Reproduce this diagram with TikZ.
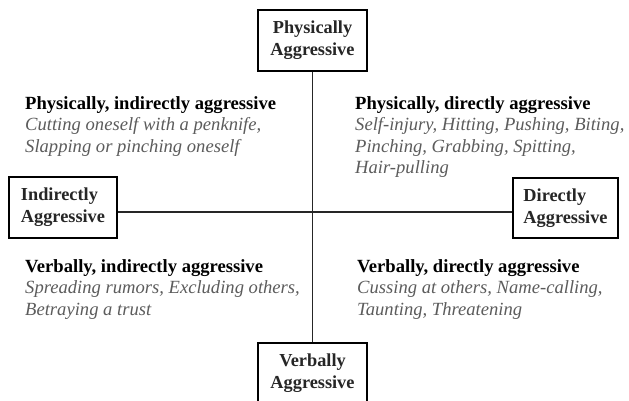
\documentclass[tikz,border=0pt]{standalone}
\usepackage{fontspec}
\setmainfont{Liberation Serif}
\definecolor{txtgray}{gray}{0.36}
\begin{document}
\begin{tikzpicture}[x=1pt,y=-1pt,
 box/.style={draw=black,line width=1.8pt,minimum width=109pt,minimum height=61pt,inner sep=0pt,
   font=\fontsize{18.3}{22}\selectfont\bfseries,text=black!85},
 conn/.style={draw=black!85,line width=1.8pt},
 blk/.style={anchor=north west,inner sep=0pt,align=left,font=\fontsize{18.6}{21.6}\selectfont}]
\useasboundingbox (0,0) rectangle (629,400);
\fill[white] (0,0) rectangle (629,400);
\node[box,align=center] (top) at (312.5,40.5) {Physically\\Aggressive};
\node[box,align=left,minimum width=108pt] (left) at (63,207.5) {Indirectly\\Aggressive};
\node[box,align=left,minimum width=105pt,minimum height=60pt] (right) at (565.5,208) {Directly\\Aggressive};
\node[box,align=center] (bot) at (312.5,373.5) {Verbally\\Aggressive};
\coordinate (c) at (312,212);
\draw[conn] (top.south) -- (bot.north);
\draw[conn] (left.east |- c) -- (right.west |- c);
\node[blk] (pi) at (25,96) {\textbf{Physically, indirectly aggressive}\\
  \color{txtgray}\itshape Cutting oneself with a penknife,\\
  \color{txtgray}\itshape Slapping or pinching oneself};
\node[blk] (pd) at (355,96) {\textbf{Physically, directly aggressive}\\
  \color{txtgray}\itshape Self-injury, Hitting, Pushing, Biting,\\
  \color{txtgray}\itshape Pinching, Grabbing, Spitting,\\
  \color{txtgray}\itshape Hair-pulling};
\node[blk] (vi) at (25,259) {\textbf{Verbally, indirectly aggressive}\\
  \color{txtgray}\itshape Spreading rumors, Excluding others,\\
  \color{txtgray}\itshape Betraying a trust};
\node[blk] (vd) at (357,259) {\textbf{Verbally, directly aggressive}\\
  \color{txtgray}\itshape Cussing at others, Name-calling,\\
  \color{txtgray}\itshape Taunting, Threatening};
\end{tikzpicture}
\end{document}
